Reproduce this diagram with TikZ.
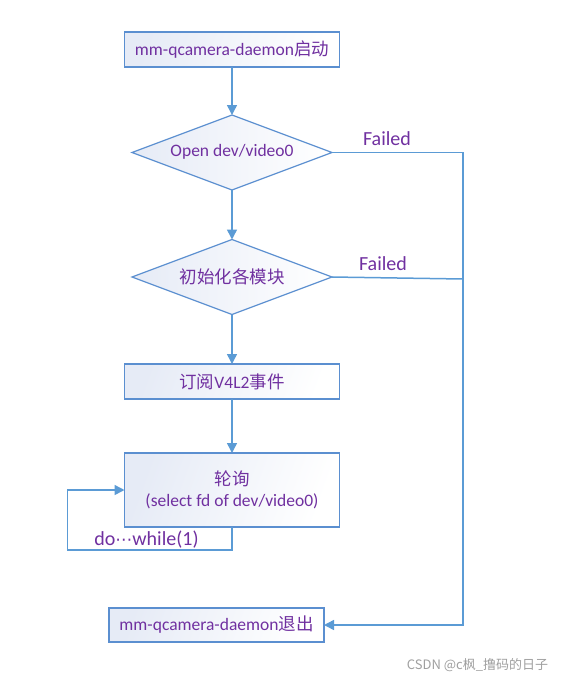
\documentclass[tikz,border=0pt]{standalone}
\usepackage{fontspec}
\setmainfont{Carlito}
\newfontfamily\cjk{Noto Sans CJK SC}
\newfontfamily\dvs{DejaVu Sans}
\usetikzlibrary{arrows.meta,shapes.geometric}
\definecolor{txt}{HTML}{7030A0}
\definecolor{ln}{HTML}{5B9BD5}
\definecolor{bd}{HTML}{5B8FD0}
\definecolor{fl}{HTML}{E6EBF6}
\begin{document}
\begin{tikzpicture}[x=1pt,y=-1pt,
  every node/.style={inner sep=0pt,outer sep=0pt},
  lbl/.style={text=txt,font=\fontsize{17.5}{20}\selectfont},
  procbox/.style={draw=bd,line width=1.2pt,left color=fl,right color=white,shading angle=70,
     minimum width=215pt,minimum height=35pt},
  decide/.style={diamond,aspect=2.67,draw=bd,line width=1.2pt,left color=fl,right color=white,
     minimum width=200pt,minimum height=75pt},
  conn/.style={draw=ln,line width=1.5pt,-{Triangle[length=10pt,width=10pt]}},
  plain/.style={draw=ln,line width=1.5pt}]
\useasboundingbox (0,0) rectangle (562,681);
\node[procbox] (b1) at (232,49.5) {};
\node[lbl] (t1) at (232,49.5) {mm-qcamera-daemon{\cjk 启动}};
\node[decide] (d1) at (232,152.5) {};
\node[lbl] (t2) at (232,152) {Open dev/video0};
\node[decide] (d2) at (232,277) {};
\node[lbl] (t3) at (232,277) {\cjk 初始化各模块};
\node[procbox] (b3) at (232,381.5) {};
\node[lbl] (t4) at (232,381.5) {{\cjk 订阅}V4L2{\cjk 事件}};
\node[procbox,minimum height=74pt] (b4) at (232,490) {};
\node[lbl] (t5) at (232,479) {\cjk 轮询};
\node[lbl] (t6) at (232,501) {(select fd of dev/video0)};
\node[procbox,minimum height=34pt] (b5) at (216.5,625) {};
\node[lbl] (t7) at (216.5,625) {mm-qcamera-daemon{\cjk 退出}};
\node[text=txt,font=\fontsize{20}{22}\selectfont] (f1) at (387,139) {Failed};
\node[text=txt,font=\fontsize{20}{22}\selectfont] (f2) at (383,264) {Failed};
\node[text=txt,font=\fontsize{20}{22}\selectfont] (dw) at (146.5,540) {do{\dvs\fontsize{17}{20}\selectfont ⋯}while(1)};
\node[text=gray!75,font=\cjk\fontsize{13}{15}\selectfont] (wm) at (477.5,665) {CSDN @c枫\_撸码的日子};
\coordinate (r1) at (463,152.5);
\coordinate (r2) at (463,279);
\coordinate (r3) at (463,625);
\coordinate (l1) at (232,550);
\coordinate (l2) at (67.5,550);
\coordinate (l3) at (67.5,490);
\draw[conn] (b1.south) -- (d1.north);
\draw[conn] (d1.south) -- (d2.north);
\draw[conn] (d2.south) -- (b3.north);
\draw[conn] (b3.south) -- (b4.north);
\draw[plain] (d1.east) -- (r1) -- (r2);
\draw[plain] (d2.east) -- (r2);
\draw[conn] (r2) -- (r3) -- (b5.east);
\draw[conn] (b4.south -| l1) -- (l1) -- (l2) -- (l3) -- (b4.west |- l3);
\end{tikzpicture}
\end{document}
